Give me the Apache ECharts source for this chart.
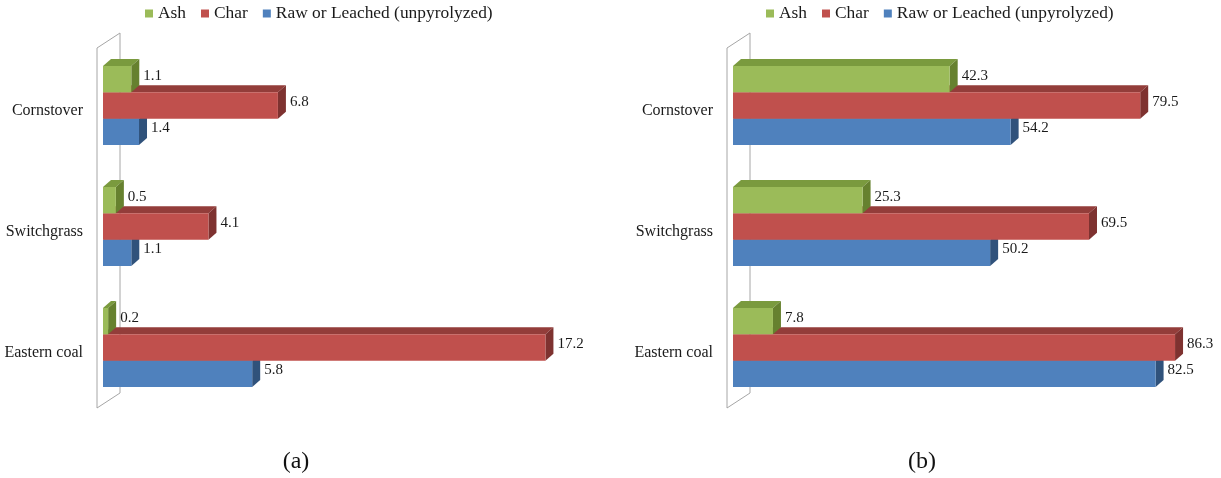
<!DOCTYPE html>
<html>
<head>
<meta charset="utf-8">
<script src="https://cdn.jsdelivr.net/npm/echarts@6/dist/echarts.min.js"></script>
<style>
  html, body { margin: 0; padding: 0; background: #ffffff; }
  #chart { width: 1221px; height: 478px; }
</style>
</head>
<body>
<div id="chart"></div>
<script>
// Categories and series (shared by both panels)
const categories = ['Cornstover', 'Switchgrass', 'Eastern coal'];
const seriesNames = ['Ash', 'Char', 'Raw or Leached (unpyrolyzed)'];

// Panel (a)
const panelA_ash  = [1.1, 0.5, 0.2];
const panelA_char = [6.8, 4.1, 17.2];
const panelA_raw  = [1.4, 1.1, 5.8];

// Panel (b)
const panelB_ash  = [42.3, 25.3, 7.8];
const panelB_char = [79.5, 69.5, 86.3];
const panelB_raw  = [54.2, 50.2, 82.5];

const panelCaptions = ['(a)', '(b)'];

// Layout / style
const SERIF = '"Liberation Serif", "Times New Roman", serif';
const GRID_TOP = 45, GRID_H = 363;
const gridA = { left: 103, width: 463, max: 18 };
const gridB = { left: 733, width: 461, max: 90 };
const DEPTH_X = 8, DEPTH_Y = -7;

const palettes = [
  { front: '#9BBB59', top: '#7A9A3E', side: '#66812F' }, // Ash
  { front: '#C0504D', top: '#933D3A', side: '#7E3230' }, // Char
  { front: '#4F81BD', top: '#3E6797', side: '#30527B' }  // Raw
];

// Draws one bar as a 3-D box: top face, right face, front face and its value label
function bar3d(slot, pal) {
  return function (params, api) {
    const v = api.value(0);
    const ci = api.value(1);
    const base = api.coord([0, ci]);
    const end = api.coord([v, ci]);
    const band = api.size([0, 1])[1];
    const h = band * 0.2175;
    const y0 = base[1] - 1.5 * h + slot * h;
    const x0 = base[0], x1 = end[0];
    return {
      type: 'group',
      children: [
        { type: 'polygon', shape: { points: [[x0, y0], [x0 + DEPTH_X, y0 + DEPTH_Y], [x1 + DEPTH_X, y0 + DEPTH_Y], [x1, y0]] },
          style: { fill: pal.top } },
        { type: 'polygon', shape: { points: [[x1, y0], [x1 + DEPTH_X, y0 + DEPTH_Y], [x1 + DEPTH_X, y0 + DEPTH_Y + h], [x1, y0 + h]] },
          style: { fill: pal.side } },
        { type: 'rect', shape: { x: x0, y: y0, width: x1 - x0, height: h },
          style: { fill: pal.front } },
        { type: 'text', style: { text: v.toFixed(1), x: x1 + DEPTH_X + 4, y: y0 + h / 2 + DEPTH_Y / 2,
          verticalAlign: 'middle', align: 'left', font: '15px ' + SERIF, fill: '#1a1a1a' } }
      ]
    };
  };
}

function makeSeries(panelIdx, arrays) {
  return arrays.map((arr, s) => ({
    type: 'custom',
    name: seriesNames[s],
    xAxisIndex: panelIdx,
    yAxisIndex: panelIdx,
    z: 10 - s,
    itemStyle: { color: palettes[s].front },
    encode: { x: 0, y: 1 },
    data: arr.map((v, i) => [v, i]),
    renderItem: bar3d(s, palettes[s])
  }));
}

// Back wall outline of each 3-D plot area
function wall(left) {
  const fx = left - 6, bx = left + 17;
  return {
    type: 'polygon', z: 0,
    shape: { points: [[fx, GRID_TOP + 3], [bx, GRID_TOP - 12], [bx, GRID_TOP + GRID_H - 15], [fx, GRID_TOP + GRID_H]] },
    style: { fill: '#ffffff', stroke: '#a6a6a6', lineWidth: 1 }
  };
}

function caption(text, cx) {
  return {
    type: 'text', z: 5, x: cx, y: 462,
    style: { text: text, font: '24px ' + SERIF, fill: '#111', align: 'center', verticalAlign: 'middle' }
  };
}

const legendCommon = {
  top: 5, padding: 0, icon: 'rect', itemWidth: 8, itemHeight: 8, itemGap: 15,
  data: seriesNames,
  textStyle: { fontFamily: SERIF, fontSize: 17.4, color: '#1a1a1a' }
};

const chart = echarts.init(document.getElementById('chart'), null, { renderer: 'canvas' });

const yAxisCommon = {
  type: 'category', data: categories, inverse: true,
  axisLine: { show: false }, axisTick: { show: false }, splitLine: { show: false },
  axisLabel: { fontFamily: SERIF, fontSize: 16, color: '#1a1a1a', margin: 20,
               verticalAlign: 'top', lineHeight: 10 }
};

chart.setOption({
  backgroundColor: '#ffffff',
  animation: false,
  legend: [
    Object.assign({ left: 145 }, legendCommon),
    Object.assign({ left: 766 }, legendCommon)
  ],
  grid: [
    { left: gridA.left, top: GRID_TOP, width: gridA.width, height: GRID_H },
    { left: gridB.left, top: GRID_TOP, width: gridB.width, height: GRID_H }
  ],
  xAxis: [
    { type: 'value', gridIndex: 0, min: 0, max: gridA.max, show: false },
    { type: 'value', gridIndex: 1, min: 0, max: gridB.max, show: false }
  ],
  yAxis: [
    Object.assign({ gridIndex: 0 }, yAxisCommon),
    Object.assign({ gridIndex: 1 }, yAxisCommon)
  ],
  graphic: [
    wall(gridA.left), wall(gridB.left),
    caption(panelCaptions[0], 296), caption(panelCaptions[1], 922)
  ],
  series: [
    ...makeSeries(0, [panelA_ash, panelA_char, panelA_raw]),
    ...makeSeries(1, [panelB_ash, panelB_char, panelB_raw])
  ]
});
</script>
</body>
</html>
